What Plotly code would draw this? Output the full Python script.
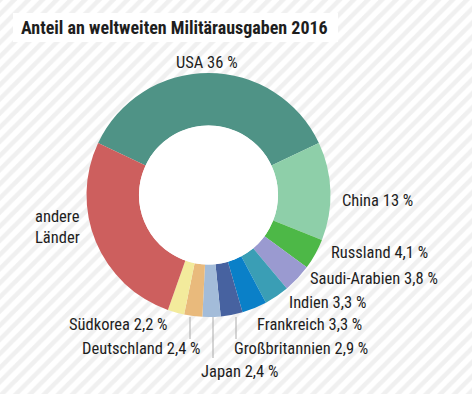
import plotly.graph_objects as go

# ---- data ----
countries = ["USA", "China", "Russland", "Saudi-Arabien", "Indien", "Frankreich",
             "Großbritannien", "Japan", "Deutschland", "Südkorea", "andere Länder"]
shares = [36.0, 13.0, 4.1, 3.8, 3.3, 3.3, 2.9, 2.4, 2.4, 2.2, 26.6]
label_texts = ["USA 36 %", "China 13 %", "Russland 4,1 %", "Saudi-Arabien 3,8 %",
               "Indien 3,3 %", "Frankreich 3,3 %", "Großbritannien 2,9 %",
               "Japan 2,4 %", "Deutschland 2,4 %", "Südkorea 2,2 %", "andere<br>Länder"]
colors = ["#4f9386", "#8ecfa9", "#4db847", "#9a9ad0", "#3a9eb5", "#0a80c8",
          "#4762a0", "#a3bcd9", "#e9ba7c", "#f3eb9c", "#cd5f5e"]
title_text = "Anteil an weltweiten Militärausgaben 2016"

# ---- layout constants (pixels) ----
W, H = 472, 394
CX, CY, R = 208.5, 195.0, 122.0
HOLE = 0.57
FONT = "Roboto Condensed, DejaVu Sans Condensed, sans-serif"
LABEL_SIZE = 16.5

def px(x):
    return x / W

def py(y):
    return 1 - y / H

fig = go.Figure()

# striped background
fig.add_trace(go.Scatter(
    x=[0, 1, 1, 0, 0], y=[0, 0, 1, 1, 0], mode="none", fill="toself",
    fillcolor="white",
    fillpattern=dict(shape="/", size=10, solidity=0.45, fgcolor="#f0f0f0",
                     bgcolor="white", fillmode="replace"),
    hoverinfo="skip", showlegend=False))

# rotation so that USA is centred at 12 o'clock
rotation = -shares[0] / sum(shares) * 360 / 2

fig.add_trace(go.Pie(
    labels=countries, values=shares, sort=False, direction="clockwise",
    rotation=rotation, hole=HOLE, textinfo="none", hoverinfo="label+value",
    marker=dict(colors=colors, line=dict(width=0)),
    domain=dict(x=[px(CX - R), px(CX + R)], y=[py(CY + R), py(CY - R)]),
    showlegend=False))

r_in = R * HOLE
shapes = [
    # white hole
    dict(type="circle", xref="paper", yref="paper", layer="above",
         x0=px(CX - r_in), x1=px(CX + r_in), y0=py(CY + r_in), y1=py(CY - r_in),
         fillcolor="white", line=dict(width=0)),
    # white title box
    dict(type="rect", xref="paper", yref="paper", layer="above",
         x0=px(13), x1=px(338), y0=py(42), y1=py(13),
         fillcolor="white", line=dict(width=0)),
]
# connector lines (Deutschland, Japan, Großbritannien)
for x, y0, y1 in [(190, 317, 339), (213, 317, 358), (236, 317, 339)]:
    shapes.append(dict(type="line", xref="paper", yref="paper", layer="above",
                       x0=px(x), x1=px(x), y0=py(y0), y1=py(y1),
                       line=dict(color="#aaaaaa", width=1)))

# label placement: (x, y, xanchor)
label_pos = [(207, 62, "center"), (340, 200, "left"), (329, 252, "left"),
             (308, 278, "left"), (287, 302, "left"), (255, 324, "left"),
             (232, 348, "left"), (199, 371, "left"), (203, 348, "right"),
             (170, 324, "right"), (33, 226.5, "left")]

annotations = []
for txt, (x, y, xa) in zip(label_texts, label_pos):
    annotations.append(dict(text=txt, x=px(x), y=py(y), xref="paper", yref="paper",
                            xanchor=xa, yanchor="middle", showarrow=False, align="left",
                            font=dict(family=FONT, size=LABEL_SIZE, color="#1e1e1e")))
annotations.append(dict(text="<b>" + title_text + "</b>", x=px(19), y=py(27.5),
                        xref="paper", yref="paper", xanchor="left", yanchor="middle",
                        showarrow=False,
                        font=dict(family=FONT, size=18, color="#1e1e1e")))

fig.update_layout(
    width=W, height=H, margin=dict(l=0, r=0, t=0, b=0),
    paper_bgcolor="white", plot_bgcolor="white",
    xaxis=dict(range=[0, 1], visible=False, domain=[0, 1], fixedrange=True),
    yaxis=dict(range=[0, 1], visible=False, domain=[0, 1], fixedrange=True),
    shapes=shapes, annotations=annotations, showlegend=False,
)

fig.write_html("out.html", config={"displayModeBar": False},
               post_script="document.body.style.margin='0';")
